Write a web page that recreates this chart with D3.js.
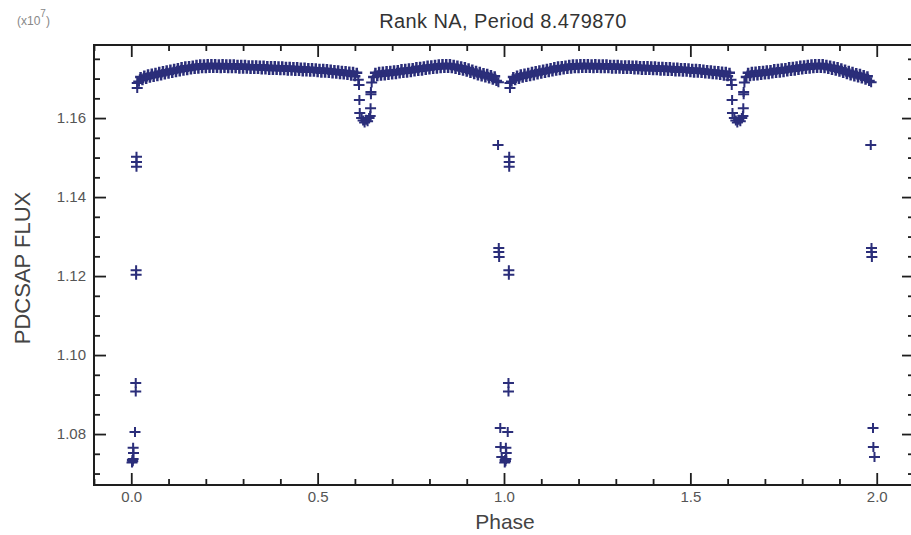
<!DOCTYPE html>
<html>
<head>
<meta charset="utf-8">
<script src="https://cdn.jsdelivr.net/npm/d3@7/dist/d3.min.js"></script>
<style>
  html, body { margin: 0; padding: 0; background: #fff; }
  svg { display: block; }
  text { font-family: "Liberation Sans", Arial, Helvetica, sans-serif; }
</style>
</head>
<body>
<svg id="chart" width="911" height="535"></svg>
<script>
// ---------------- DATA (phase in [0,1), plotted at phase and phase+1) ----------------
const titleText = "Rank NA, Period 8.479870";
const xLabel = "Phase";
const yLabel = "PDCSAP FLUX";
const xTickValues = [0.0, 0.5, 1.0, 1.5, 2.0];
const xTickLabels = ["0.0", "0.5", "1.0", "1.5", "2.0"];
const yTickValues = [1.08, 1.10, 1.12, 1.14, 1.16];
const yTickLabels = ["1.08", "1.10", "1.12", "1.14", "1.16"];

// out-of-eclipse band, after primary egress up to secondary ingress
const bandPhaseA = [0.020,0.025,0.030,0.035,0.040,0.045,0.050,0.055,0.060,0.065,0.070,0.075,0.080,0.085,0.090,0.095,
  0.100,0.105,0.110,0.115,0.120,0.125,0.130,0.135,0.140,0.145,0.150,0.155,0.160,0.165,0.170,0.175,0.180,0.185,0.190,0.195,
  0.200,0.205,0.210,0.215,0.220,0.225,0.230,0.235,0.240,0.245,0.250,0.255,0.260,0.265,0.270,0.275,0.280,0.285,0.290,0.295,
  0.300,0.305,0.310,0.315,0.320,0.325,0.330,0.335,0.340,0.345,0.350,0.355,0.360,0.365,0.370,0.375,0.380,0.385,0.390,0.395,
  0.400,0.405,0.410,0.415,0.420,0.425,0.430,0.435,0.440,0.445,0.450,0.455,0.460,0.465,0.470,0.475,0.480,0.485,0.490,0.495,
  0.500,0.505,0.510,0.515,0.520,0.525,0.530,0.535,0.540,0.545,0.550,0.555,0.560,0.565,0.570,0.575,0.580,0.585,0.590,0.595,
  0.600,0.605];
const bandFluxA = [1.1692,1.1704,1.1696,1.1708,1.1699,1.1711,1.1702,1.1713,1.1704,1.1715,1.1706,1.1717,1.1708,1.1719,1.1710,1.1721,
  1.1712,1.1723,1.1714,1.1725,1.1716,1.1727,1.1718,1.1729,1.1720,1.1731,1.1721,1.1732,1.1723,1.1733,1.1724,1.1735,1.1725,1.1736,1.1726,1.1736,
  1.1726,1.1737,1.1727,1.1737,1.1727,1.1737,1.1727,1.1736,1.1726,1.1737,1.1727,1.1736,1.1726,1.1736,1.1726,1.1736,1.1726,1.1735,1.1725,1.1735,
  1.1725,1.1735,1.1725,1.1734,1.1724,1.1734,1.1724,1.1734,1.1724,1.1733,1.1723,1.1733,1.1723,1.1732,1.1722,1.1732,1.1722,1.1732,1.1722,1.1731,
  1.1721,1.1731,1.1721,1.1730,1.1720,1.1730,1.1720,1.1729,1.1719,1.1729,1.1719,1.1728,1.1718,1.1728,1.1718,1.1727,1.1717,1.1727,1.1717,1.1726,
  1.1716,1.1725,1.1715,1.1725,1.1715,1.1724,1.1714,1.1723,1.1713,1.1722,1.1712,1.1721,1.1711,1.1720,1.1710,1.1719,1.1709,1.1718,1.1707,1.1717,
  1.1706,1.1715];

// out-of-eclipse band, after secondary egress up to primary ingress
const bandPhaseB = [0.650,0.655,0.660,0.665,0.670,0.675,0.680,0.685,0.690,0.695,
  0.700,0.705,0.710,0.715,0.720,0.725,0.730,0.735,0.740,0.745,0.750,0.755,0.760,0.765,0.770,0.775,0.780,0.785,0.790,0.795,
  0.800,0.805,0.810,0.815,0.820,0.825,0.830,0.835,0.840,0.845,0.850,0.855,0.860,0.865,0.870,0.875,0.880,0.885,0.890,0.895,
  0.900,0.905,0.910,0.915,0.920,0.925,0.930,0.935,0.940,0.945,0.950,0.955,0.960,0.965,0.970,0.975,0.980];
const bandFluxB = [1.1704,1.1715,1.1706,1.1717,1.1707,1.1718,1.1708,1.1719,1.1709,1.1720,
  1.1710,1.1721,1.1711,1.1722,1.1713,1.1724,1.1714,1.1725,1.1715,1.1726,1.1716,1.1727,1.1718,1.1729,1.1719,1.1730,1.1720,1.1731,1.1722,1.1733,
  1.1723,1.1734,1.1724,1.1735,1.1725,1.1736,1.1726,1.1737,1.1727,1.1737,1.1727,1.1737,1.1726,1.1735,1.1724,1.1733,1.1722,1.1731,1.1720,1.1729,
  1.1717,1.1726,1.1714,1.1723,1.1711,1.1720,1.1708,1.1717,1.1705,1.1714,1.1703,1.1712,1.1700,1.1709,1.1697,1.1706,1.1694];

// primary eclipse (around phase 0)
const primaryPhase = [0.984,0.985,0.986,0.986,0.987,0.990,0.991,0.994,
  0.002,0.003,0.004,0.005,0.005,0.006,0.010,0.012,0.012,0.013,0.013,0.014,0.014,0.014,0.016,0.016];
const primaryFlux = [1.1532,1.1691,1.1271,1.1261,1.1248,1.0815,1.0767,1.0742,
  1.0728,1.0734,1.0731,1.0737,1.0765,1.0752,1.0805,1.0929,1.0908,1.1215,1.1203,1.1502,1.1489,1.1477,1.1689,1.1676];

// secondary eclipse (around phase 0.63)
const secondaryPhase = [0.609,0.611,0.612,0.613,0.618,0.622,0.626,0.630,0.634,0.638,0.641,0.642,0.643,0.643,0.645];
const secondaryFlux = [1.1697,1.1684,1.1646,1.1613,1.1600,1.1594,1.1589,1.1596,1.1592,1.1600,1.1605,1.1625,1.1660,1.1666,1.1690];

// ---------------- CHART ----------------
(function () {
const svg = d3.select("#chart");
const mL = 94, mR = 914, mT = 45, mB = 485;
const x = d3.scaleLinear().domain([-0.1, 2.1]).range([mL, mR]);
const y = d3.scaleLinear().domain([1.0671, 1.1785]).range([mB, mT]);

const markColor = "#2b2e7a";
const axisColor = "#1e1e1e";
const labelColor = "#555";

function pairs(ph, fl, sw) { return ph.map((p, i) => ({ p: p, f: fl[i], sw: sw })); }
const base = [].concat(pairs(bandPhaseA, bandFluxA, 2.5), pairs(bandPhaseB, bandFluxB, 2.5),
  pairs(primaryPhase, primaryFlux, 2), pairs(secondaryPhase, secondaryFlux, 2));
const points = [];
base.forEach(d => { points.push({ p: d.p, f: d.f, sw: d.sw }); points.push({ p: d.p + 1, f: d.f, sw: d.sw }); });

const plus = "M-5.5,0H5.5M0,-5V5";
svg.append("g").selectAll("path").data(points).join("path")
  .attr("d", plus)
  .attr("transform", d => `translate(${x(d.p)},${y(d.f)})`)
  .attr("fill", "none")
  .attr("stroke", markColor)
  .attr("stroke-width", d => d.sw);

const xMinor = d3.range(-1, 21).map(i => i / 10).filter(v => xTickValues.every(t => Math.abs(t - v) > 1e-9));
const yMinor = d3.range(214, 236).map(i => i * 0.005).filter(v => v > 1.0671 && v < 1.1785 && yTickValues.every(t => Math.abs(t - v) > 1e-9));

function styleAxis(g) {
  g.select(".domain").remove();
  g.selectAll("line").attr("stroke", axisColor).attr("stroke-width", 1.8);
}

svg.append("g").attr("transform", `translate(0,${mB})`)
  .call(d3.axisBottom(x).tickValues(xTickValues).tickFormat((d, i) => xTickLabels[i]).tickSizeInner(-12).tickSizeOuter(0).tickPadding(6))
  .call(styleAxis)
  .call(g => g.selectAll("text").attr("fill", labelColor).attr("font-size", 15));
svg.append("g").attr("transform", `translate(0,${mB})`)
  .call(d3.axisBottom(x).tickValues(xMinor).tickFormat("").tickSizeInner(-6).tickSizeOuter(0))
  .call(styleAxis);
svg.append("g").attr("transform", `translate(0,${mT})`)
  .call(d3.axisTop(x).tickValues(xTickValues).tickFormat("").tickSizeInner(-12).tickSizeOuter(0))
  .call(styleAxis);
svg.append("g").attr("transform", `translate(0,${mT})`)
  .call(d3.axisTop(x).tickValues(xMinor).tickFormat("").tickSizeInner(-6).tickSizeOuter(0))
  .call(styleAxis);
svg.append("g").attr("transform", `translate(${mL},0)`)
  .call(d3.axisLeft(y).tickValues(yTickValues).tickFormat((d, i) => yTickLabels[i]).tickSizeInner(-12).tickSizeOuter(0).tickPadding(8))
  .call(styleAxis)
  .call(g => g.selectAll("text").attr("fill", labelColor).attr("font-size", 15));
svg.append("g").attr("transform", `translate(${mL},0)`)
  .call(d3.axisLeft(y).tickValues(yMinor).tickFormat("").tickSizeInner(-6).tickSizeOuter(0))
  .call(styleAxis);
svg.append("g").attr("transform", `translate(${mR},0)`)
  .call(d3.axisRight(y).tickValues(yTickValues).tickFormat("").tickSizeInner(-12).tickSizeOuter(0))
  .call(styleAxis);
svg.append("g").attr("transform", `translate(${mR},0)`)
  .call(d3.axisRight(y).tickValues(yMinor).tickFormat("").tickSizeInner(-6).tickSizeOuter(0))
  .call(styleAxis);

svg.append("rect").attr("x", mL).attr("y", mT).attr("width", mR - mL).attr("height", mB - mT)
  .attr("fill", "none").attr("stroke", axisColor).attr("stroke-width", 2);

svg.append("text").attr("x", 503).attr("y", 28).attr("text-anchor", "middle")
  .attr("font-size", 20).attr("letter-spacing", 0.4).attr("fill", "#333").text(titleText);

const ex = svg.append("text").attr("x", 17).attr("y", 25).attr("font-size", 12).attr("fill", "#888");
ex.append("tspan").text("(x10");
ex.append("tspan").attr("dy", -8).attr("font-size", 10).text("7");
ex.append("tspan").attr("dy", 8).text(")");

svg.append("text").attr("transform", "translate(30,268) rotate(-90)").attr("text-anchor", "middle")
  .attr("font-size", 22).attr("fill", "#444").text(yLabel);
svg.append("text").attr("x", 505).attr("y", 529).attr("text-anchor", "middle")
  .attr("font-size", 21).attr("fill", "#444").text(xLabel);
})();
</script>
</body>
</html>
